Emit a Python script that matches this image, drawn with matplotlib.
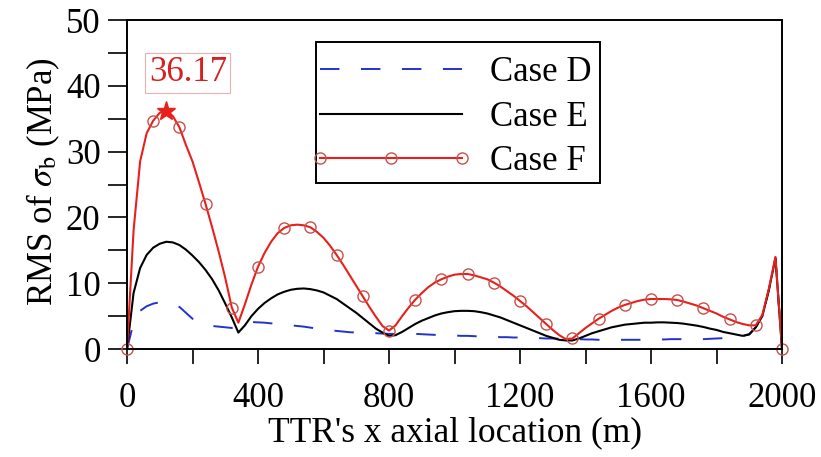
import numpy as np
import matplotlib
matplotlib.use("Agg")
import matplotlib.pyplot as plt
from matplotlib.ticker import MultipleLocator
from matplotlib.patches import Rectangle
from matplotlib.legend_handler import HandlerLine2D

plt.rcParams["font.family"] = ["Liberation Serif", "DejaVu Serif"]
plt.rcParams["mathtext.fontset"] = "stix"
plt.rcParams["lines.scale_dashes"] = False

# axial location (m), 20 m spacing
x = np.arange(0, 2001, 20)

case_d = [0, 4.0, 5.8, 6.5, 6.9, 7.1, 7.1, 6.8, 6.4, 5.5,
          4.6, 4.0, 3.7, 3.5, 3.4, 3.3, 3.2, 3.4, 4.0, 4.1,
          4.05, 4.0, 3.9, 3.8, 3.7, 3.6, 3.5, 3.4, 3.25, 3.1,
          3.0, 2.85, 2.75, 2.65, 2.55, 2.5, 2.45, 2.4, 2.4, 2.35,
          2.3, 2.3, 2.3, 2.3, 2.3, 2.25, 2.2, 2.15, 2.1, 2.1,
          2.05, 2.0, 2.0, 1.95, 1.9, 1.9, 1.85, 1.8, 1.8, 1.75,
          1.75, 1.7, 1.7, 1.65, 1.6, 1.6, 1.55, 1.5, 1.5, 1.5,
          1.45, 1.45, 1.4, 1.4, 1.4, 1.4, 1.4, 1.4, 1.4, 1.4,
          1.4, 1.45, 1.45, 1.5, 1.5, 1.5, 1.5, 1.5, 1.5, 1.55,
          1.6, 1.65, 1.7, 1.8, 1.95, 2.3, 3.3, 5.0, 9.0, 13.8,
          0]

case_e = [0, 8.5, 12.3, 14.3, 15.4, 16.0, 16.3, 16.2, 15.8, 15.1,
          14.2, 13.2, 12.0, 10.6, 8.9, 6.9, 4.8, 2.5, 3.6, 5.0,
          6.1, 7.0, 7.7, 8.3, 8.7, 9.0, 9.15, 9.2, 9.1, 8.9,
          8.6, 8.1, 7.6, 6.9, 6.2, 5.5, 4.7, 3.9, 3.1, 2.5,
          2.0, 2.1, 2.6, 3.2, 3.8, 4.3, 4.7, 5.1, 5.4, 5.6,
          5.75, 5.8, 5.8, 5.75, 5.6, 5.4, 5.1, 4.8, 4.4, 4.0,
          3.6, 3.2, 2.8, 2.4, 2.0, 1.7, 1.4, 1.3, 1.3, 1.6,
          2.0, 2.4, 2.7, 3.0, 3.3, 3.5, 3.7, 3.8, 3.9, 4.0,
          4.0, 4.05, 4.05, 4.0, 3.95, 3.85, 3.7, 3.55, 3.35, 3.1,
          2.9, 2.6, 2.4, 2.2, 2.0, 2.2, 3.3, 5.0, 9.0, 13.8,
          0]

case_f = [0, 18.0, 28.5, 32.8, 34.7, 35.9, 36.17, 35.4, 33.7, 31.0,
          28.5, 25.3, 22.0, 18.5, 14.8, 10.8, 6.3, 4.0, 6.8, 9.8,
          12.5, 14.6, 16.3, 17.6, 18.4, 18.8, 18.9, 18.8, 18.5, 17.8,
          16.9, 15.7, 14.3, 12.8, 11.2, 9.6, 8.0, 6.4, 4.9, 3.5,
          2.8, 3.6, 5.0, 6.3, 7.5, 8.5, 9.4, 10.1, 10.6, 11.0,
          11.3, 11.4, 11.4, 11.2, 10.9, 10.6, 10.1, 9.5, 8.8, 8.1,
          7.3, 6.5, 5.6, 4.7, 3.8, 2.9, 2.1, 1.5, 1.6, 2.4,
          3.2, 3.9, 4.6, 5.2, 5.8, 6.3, 6.7, 7.0, 7.3, 7.5,
          7.6, 7.6, 7.6, 7.55, 7.45, 7.2, 6.9, 6.6, 6.2, 5.8,
          5.4, 4.9, 4.5, 4.1, 3.8, 3.6, 3.6, 5.2, 9.2, 14.0,
          0]

peak_x = 120
peak_y = 36.17

fs = 25

fig = plt.figure(figsize=(8.21, 4.57), dpi=100)
ax = fig.add_axes([0.1547, 0.2363, 0.7978, 0.7199])

line_d, = ax.plot(x, case_d, color="#2233cc", lw=1.4, ls=(0, (14, 15.5)), label="Case D")
line_e, = ax.plot(x, case_e, color="black", lw=1.5, label="Case E")
line_f, = ax.plot(x, case_f, color="#e8201c", lw=1.5, marker="o", markevery=4,
                  ms=8, mfc="none", mec="#c8504a", mew=1.0, label="Case F", clip_on=False)
ax.plot([peak_x], [peak_y], marker="*", color="#e8201c", ms=14, ls="none")
ax.text(186, 42.0, f"{peak_y:.2f}", color="#d42020", fontsize=fs,
        ha="center", va="center",
        bbox=dict(boxstyle="square,pad=0.1", fc="white", ec="#e8b0b0", lw=0.8))

ax.set_xlim(0, 2000)
ax.set_ylim(0, 50)
ax.xaxis.set_major_locator(MultipleLocator(400))
ax.xaxis.set_minor_locator(MultipleLocator(200))
ax.yaxis.set_major_locator(MultipleLocator(10))
ax.yaxis.set_minor_locator(MultipleLocator(5))
ax.tick_params(which="both", direction="out", width=1.2,
               labelsize=fs, top=False, right=False)
ax.tick_params(axis="x", which="both", length=11, pad=13)
ax.tick_params(axis="y", which="both", length=14, pad=5)
for s in ax.spines.values():
    s.set_linewidth(1.4)

ax.set_xlabel("TTR's x axial location (m)", fontsize=25.5, labelpad=1)
ax.set_ylabel(r"RMS of $\sigma_\mathrm{b}$ (MPa)", fontsize=25)
ax.yaxis.set_label_coords(-0.10, 0.51)

# legend frame drawn separately so the inner padding matches
ax.add_patch(Rectangle((0.2885, 0.5046), 0.4336, 0.4290, transform=ax.transAxes,
                       fill=False, ec="black", lw=1.4, zorder=5))
leg = ax.legend(handles=[line_d, line_e, line_f],
                handler_map={line_d: HandlerLine2D(numpoints=2),
                             line_e: HandlerLine2D(numpoints=2)},
                loc="upper left", bbox_to_anchor=(0.2794, 0.89), borderaxespad=0,
                fontsize=fs, frameon=False, handlelength=4.69, numpoints=3,
                labelspacing=0.33, borderpad=0, handletextpad=0.49)

fig.savefig("out.png", dpi=100)
